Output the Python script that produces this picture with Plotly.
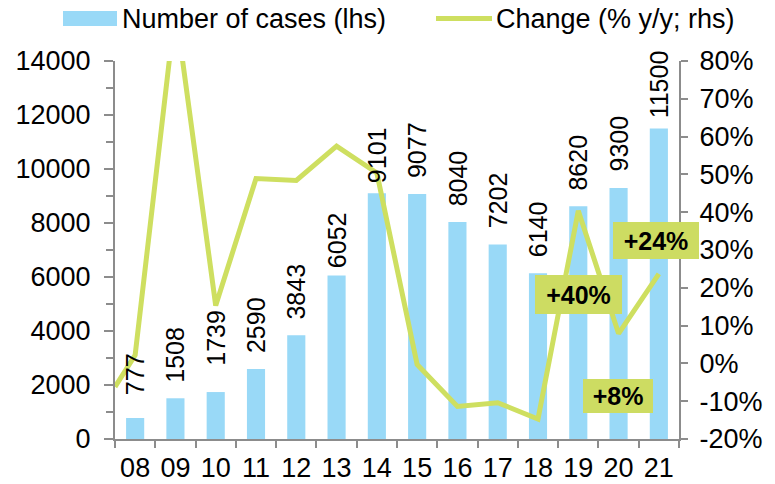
import plotly.graph_objects as go

# Data
years = ["08", "09", "10", "11", "12", "13", "14", "15", "16", "17", "18", "19", "20", "21"]
cases = [777, 1508, 1739, 2590, 3843, 6052, 9101, 9077, 8040, 7202, 6140, 8620, 9300, 11500]
change_pct = [2.2, 94.1, 15.3, 48.9, 48.4, 57.5, 50.4, -0.3, -11.4, -10.4, -14.7, 40.4, 7.9, 23.7]
prior_change_pct = -6.2  # carried in from the previous year, starts at the axis edge

left_ticks = list(range(0, 14001, 2000))
right_ticks = list(range(-20, 81, 10))
callouts = ["+40%", "+8%", "+24%"]

FONT = "Liberation Sans, Arial, sans-serif"
BAR_COLOR = "#99d9f7"
LINE_COLOR = "#cedf60"
BOX_COLOR = "#cddc62"
AXIS_COLOR = "#8c8c8c"

W, H = 775, 484
L, R, T, B = 115, 679, 61, 439  # plot area in pixels

LABEL_OFFSET = 44  # px from bar top to the centre of its rotated value label
label_nudge = {2: 10, 5: -9, 6: -6}  # a few labels sit slightly higher/lower


def px_x(px):
    return (px - L) / (R - L)


def px_y(py):
    return (B - py) / (B - T)


xs = list(range(len(years)))

fig = go.Figure()

fig.add_trace(go.Bar(
    x=xs, y=cases, width=0.45,
    marker=dict(color=BAR_COLOR, line=dict(width=0)),
    name="Number of cases (lhs)", showlegend=False,
))

fig.add_trace(go.Scatter(
    x=[-0.5] + xs, y=[prior_change_pct] + change_pct, yaxis="y2",
    mode="lines", line=dict(color=LINE_COLOR, width=5),
    name="Change (% y/y; rhs)", showlegend=False,
))

# Value labels above the bars, rotated
for i, (xv, v) in enumerate(zip(xs, cases)):
    fig.add_annotation(text=str(v), x=xv, y=v, xref="x", yref="y",
                       xanchor="center", yanchor="middle", textangle=-90,
                       yshift=LABEL_OFFSET + label_nudge.get(i, 0), showarrow=False,
                       font=dict(family=FONT, size=25, color="black"))

axis_common = dict(
    showgrid=False, zeroline=False, showline=True, linecolor=AXIS_COLOR, linewidth=2,
    tickfont=dict(family=FONT, size=27, color="black"), tickcolor=AXIS_COLOR, tickwidth=2,
    automargin=False,
)

fig.update_layout(
    width=W, height=H,
    margin=dict(l=L, r=W - R, t=T, b=H - B),
    paper_bgcolor="white", plot_bgcolor="white",
    xaxis=dict(
        range=[-0.5, len(years) - 0.5], tickvals=xs, ticktext=years, ticks="",
        minor=dict(tick0=-0.5, dtick=1, ticks="outside", ticklen=7, tickcolor=AXIS_COLOR, tickwidth=2),
        ticklabelstandoff=4,
        **axis_common,
    ),
    yaxis=dict(
        range=[0, 14000], tickvals=left_ticks, ticktext=[str(v) for v in left_ticks],
        ticks="outside", ticklen=9, ticklabelstandoff=8,
        minor=dict(dtick=1000, ticks="outside", ticklen=7, tickcolor=AXIS_COLOR, tickwidth=2),
        **axis_common,
    ),
    yaxis2=dict(
        range=[-20, 80], tickvals=right_ticks, ticktext=[f"{v}%" for v in right_ticks],
        overlaying="y", side="right", ticks="outside", ticklen=7, ticklabelstandoff=6,
        **axis_common,
    ),
    showlegend=False,
)

# Legend drawn by hand
fig.add_shape(type="rect", xref="paper", yref="paper",
              x0=px_x(63), x1=px_x(117), y0=px_y(26), y1=px_y(11),
              fillcolor=BAR_COLOR, line=dict(width=0))
fig.add_shape(type="line", xref="paper", yref="paper",
              x0=px_x(436), x1=px_x(492), y0=px_y(18.5), y1=px_y(18.5),
              line=dict(color=LINE_COLOR, width=5))
for label, xpx in [("Number of cases (lhs)", 120), ("Change (% y/y; rhs)", 494)]:
    fig.add_annotation(text=label, xref="paper", yref="paper", x=px_x(xpx), y=px_y(18.5),
                       xanchor="left", yanchor="middle", showarrow=False,
                       font=dict(family=FONT, size=27, color="black"))

# Callout boxes for recent year changes
box_specs = [  # (x in category units, y in % on right axis, box width, box height)
    (11.0, 18.2, 87, 39),
    (11.99, -8.6, 70, 34),
    (12.93, 32.5, 86, 37),
]
for text, (bx, by, bw, bh) in zip(callouts, box_specs):
    fig.add_annotation(text=f"<b>{text}</b>", x=bx, y=by, xref="x", yref="y2",
                       showarrow=False, bgcolor=BOX_COLOR, borderwidth=0, borderpad=0,
                       width=bw, height=bh, align="center", valign="middle",
                       font=dict(family=FONT, size=25, color="black"))

fig.write_html("out.html")
